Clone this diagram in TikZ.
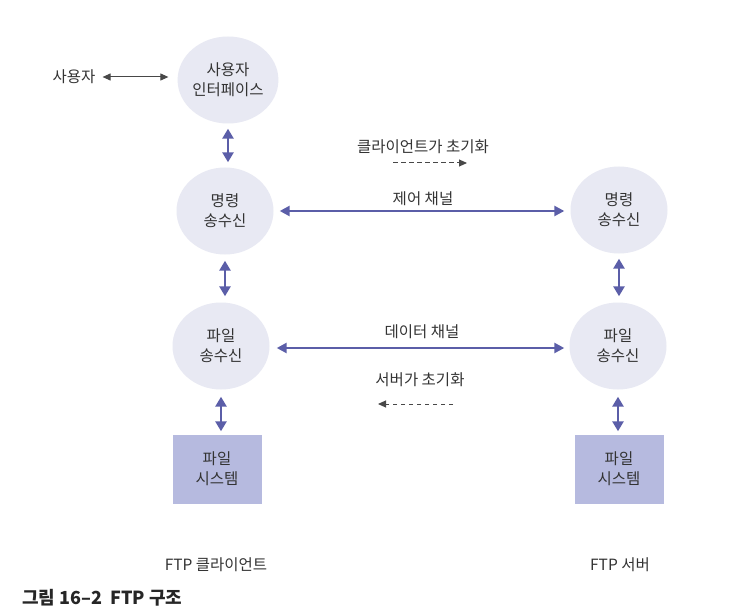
\documentclass[tikz,border=0pt]{standalone}
\usepackage{fontspec}
\setmainfont{Noto Sans CJK KR}
\usetikzlibrary{shapes.geometric,arrows.meta}
\definecolor{circfill}{HTML}{E8E9F3}
\definecolor{boxfill}{HTML}{B6BADF}
\definecolor{arrblue}{HTML}{5B5EA8}
\definecolor{txt}{HTML}{333333}
\definecolor{thin}{HTML}{484848}
\begin{document}
\begin{tikzpicture}[x=1pt,y=-1pt,
  lbl/.style={font=\fontsize{15.5}{20}\selectfont, text=txt, align=center, inner sep=0pt},
  proc/.style={ellipse, fill=circfill, minimum width=97pt, minimum height=87pt, lbl},
  fsys/.style={rectangle, fill=boxfill, minimum width=89pt, minimum height=69pt, lbl},
  bigarrow/.style={draw=arrblue, line width=2.8pt, {Triangle[length=10pt,width=11pt]}-{Triangle[length=10pt,width=11pt]}},
  chanarrow/.style={draw=arrblue, line width=2.4pt, {Triangle[length=10pt,width=10pt]}-{Triangle[length=10pt,width=10pt]}},
  userarrow/.style={draw=thin, line width=1pt, {Triangle[length=8pt,width=7pt]}-{Triangle[length=8pt,width=7pt]}},
  initarrow/.style={draw=thin, line width=1pt, dash pattern=on 4.5pt off 3.5pt, -{Triangle[length=8pt,width=7pt]}},
  caption/.style={font=\fontsize{18}{20}\selectfont\bfseries, text=black!85, inner sep=0pt}
]
\useasboundingbox (0,0) rectangle (750,615);
\fill[white] (0,0) rectangle (750,615);

% nodes
\node[lbl] (user) at (74,77) {사용자};
\node[proc] (ui) at (228,80) {사용자\\인터페이스};
\node[proc] (cmdL) at (225,211) {명령\\송수신};
\node[proc] (fileL) at (221,346) {파일\\송수신};
\node[fsys] (fsL) at (217,469) {파일\\시스템};
\node[proc] (cmdR) at (619,210) {명령\\송수신};
\node[proc] (fileR) at (618,346) {파일\\송수신};
\node[fsys] (fsR) at (619,469) {파일\\시스템};

% labels
\node[lbl] (cinit) at (423,147) {클라이언트가 초기화};
\node[lbl] (ctrl) at (423,199) {제어 채널};
\node[lbl] (data) at (422,332) {데이터 채널};
\node[lbl] (sinit) at (420,380) {서버가 초기화};
\node[lbl] (client) at (216,565) {FTP 클라이언트};
\node[lbl] (server) at (620,565) {FTP 서버};
\node[caption, anchor=west] (cap) at (22,598) {그림 16–2\ \ FTP 구조};

% connectors
\draw[userarrow, shorten <=7pt, shorten >=9pt] (user.east) -- (user.east -| ui.west);
\draw[bigarrow, shorten <=5pt, shorten >=5pt] (ui.south) -- (ui.south |- cmdL.north);
\draw[bigarrow, shorten <=6pt, shorten >=6pt] (cmdL.south) -- (cmdL.south |- fileL.north);
\draw[bigarrow, shorten <=7pt, shorten >=3pt] (fileL.south) -- (fileL.south |- fsL.north);
\draw[bigarrow, shorten <=5pt, shorten >=6pt] (cmdR.south) -- (cmdR.south |- fileR.north);
\draw[bigarrow, shorten <=7pt, shorten >=3pt] (fileR.south) -- (fileR.south |- fsR.north);
\draw[chanarrow, shorten <=6pt, shorten >=6pt] (cmdL.east) -- (cmdL.east -| cmdR.west);
\draw[chanarrow, shorten <=7pt, shorten >=5pt] ([yshift=-2pt]fileL.east) -- ([yshift=-2pt]fileL.east -| fileR.west);

\coordinate (ci1) at (393,163);
\coordinate (ci2) at (467,163);
\coordinate (si1) at (453,404);
\coordinate (si2) at (378,404);
\draw[initarrow] (ci1) -- (ci2);
\draw[initarrow] (si1) -- (si2);
\end{tikzpicture}
\end{document}
